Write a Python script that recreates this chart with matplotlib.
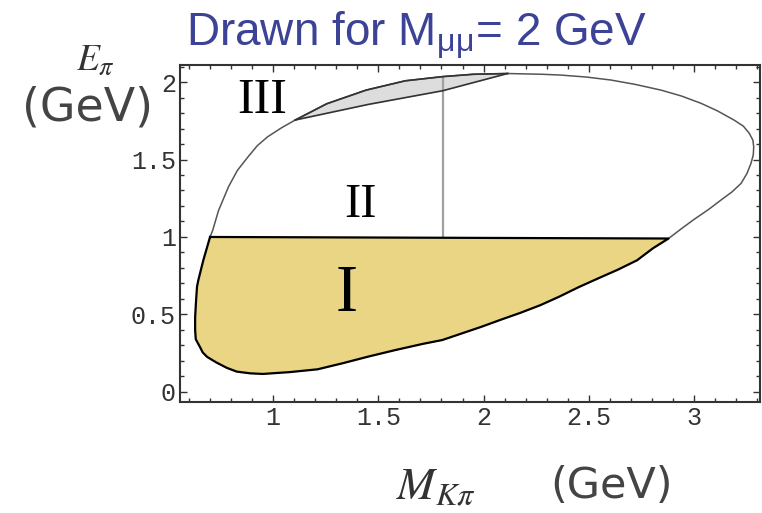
import numpy as np
import matplotlib.pyplot as plt
from matplotlib.ticker import MultipleLocator, FixedLocator

plt.rcParams['mathtext.fontset'] = 'stix'

# region I (allowed, E_pi < 1 GeV): closed boundary, counter-clockwise from top-left
region1_x = [0.700, 0.685, 0.668, 0.655, 0.644, 0.638, 0.633, 0.629, 0.629, 0.632,
             0.652, 0.665, 0.686, 0.730, 0.780, 0.827, 0.890, 0.951, 1.080, 1.211,
             1.330, 1.452, 1.580, 1.711, 1.804, 1.989, 2.080, 2.174, 2.270, 2.360,
             2.450, 2.545, 2.640, 2.730, 2.805, 2.879]
region1_y = [1.000, 0.930, 0.850, 0.780, 0.720, 0.680, 0.580, 0.480, 0.400, 0.340,
             0.290, 0.255, 0.226, 0.190, 0.155, 0.131, 0.120, 0.116, 0.128, 0.146,
             0.185, 0.228, 0.270, 0.310, 0.335, 0.420, 0.465, 0.510, 0.560, 0.615,
             0.675, 0.733, 0.790, 0.850, 0.927, 0.990]

# outer kinematic boundary above E_pi = 1 GeV
outer_x = [0.700, 0.713, 0.740, 0.788, 0.830, 0.881, 0.925, 0.974, 1.040, 1.105,
           1.255, 1.442, 1.628, 1.806, 1.950, 2.114, 2.280, 2.367, 2.490, 2.605,
           2.720, 2.843, 2.940, 3.033, 3.110, 3.190, 3.235, 3.263, 3.280, 3.284,
           3.282, 3.271, 3.252, 3.224, 3.180, 3.129, 3.070, 3.000, 2.940, 2.879]
outer_y = [1.000, 1.045, 1.170, 1.325, 1.430, 1.518, 1.590, 1.647, 1.705, 1.755,
           1.860, 1.948, 2.008, 2.035, 2.050, 2.055, 2.050, 2.045, 2.032, 2.013,
           1.985, 1.948, 1.910, 1.863, 1.815, 1.755, 1.715, 1.669, 1.625, 1.583,
           1.530, 1.475, 1.410, 1.346, 1.290, 1.239, 1.178, 1.113, 1.053, 0.990]

# lower edge of region III
region3_low_x = [1.105, 1.450, 1.806, 2.114]
region3_low_y = [1.755, 1.855, 1.944, 2.055]

cut_x = 1.806
cut_y = [1.0, 2.035]

region_labels = ['I', 'II', 'III']
label_x = [1.35, 1.414, 0.948]
label_y = [0.626, 1.206, 1.88]
label_size = [48, 35, 36]

xticks = [1, 1.5, 2, 2.5, 3]
xtick_labels = ['1', '1.5', '2', '2.5', '3']
yticks = [0, 0.5, 1, 1.5, 2]
ytick_labels = ['0', '0.5', '1', '1.5', '2']

fig = plt.figure(figsize=(7.62, 5.13), dpi=100)
ax = fig.add_axes([0.2362, 0.2164, 0.7612, 0.6569])

# region I
ax.fill(region1_x, region1_y, color='#e9d583', zorder=1)
ax.plot(region1_x + [region1_x[0]], region1_y + [region1_y[0]], color='black', lw=1.6, zorder=3)

# outer boundary
ax.plot(outer_x, outer_y, color='#555555', lw=1.1, zorder=2)

# region III: between outer boundary and the lower edge
i0 = outer_x.index(1.105)
i1 = outer_x.index(2.114)
r3x = outer_x[i0:i1 + 1] + region3_low_x[::-1]
r3y = outer_y[i0:i1 + 1] + region3_low_y[::-1]
ax.fill(r3x, r3y, color='#dddddd', zorder=1)
ax.plot(region3_low_x, region3_low_y, color='#333333', lw=1.2, zorder=2)
ax.plot(outer_x[i0:i1 + 1], outer_y[i0:i1 + 1], color='#333333', lw=1.2, zorder=2)

# vertical divider between II and III
ax.plot([cut_x, cut_x], cut_y, color='#a0a0a0', lw=1.6, zorder=1)

for t, x, y, s in zip(region_labels, label_x, label_y, label_size):
    ax.text(x, y, t, fontsize=s, family='Liberation Serif', ha='center', va='center', zorder=4)

ax.set_xlim(0.557, 3.314)
ax.set_ylim(-0.065, 2.11)

ax.xaxis.set_major_locator(FixedLocator(xticks))
ax.set_xticklabels(xtick_labels)
ax.yaxis.set_major_locator(FixedLocator(yticks))
ax.set_yticklabels(ytick_labels)
ax.xaxis.set_minor_locator(MultipleLocator(0.1))
ax.yaxis.set_minor_locator(MultipleLocator(0.1))
ax.tick_params(which='both', direction='in', top=True, right=True, color='#333333', width=1.0)
ax.tick_params(which='major', length=5, labelsize=18, labelcolor='#333333', pad=3)
ax.tick_params(which='minor', length=3)
for lab in ax.get_xticklabels() + ax.get_yticklabels():
    lab.set_family('Liberation Mono')
for sp in ax.spines.values():
    sp.set_linewidth(1.5)
    sp.set_color('#333333')

# axis labels
fig.text(96 / 762, 1 - 60 / 513, r'$E_\pi$', fontsize=27, ha='center', va='center',
         color='#333333')
fig.text(88 / 762, 1 - 108 / 513, '(GeV)', fontsize=33, family='DejaVu Sans',
         color='#444444', ha='center', va='center')
fig.text(436 / 762, 1 - 487 / 513, r'$M_{K\pi}$', fontsize=33, ha='center', va='center',
         color='#333333')
fig.text(612 / 762, 1 - 486 / 513, '(GeV)', fontsize=31, family='DejaVu Sans',
         color='#444444', ha='center', va='center')

fig.text(416 / 762, 1 - 46 / 513, 'Drawn for M$_\\mathregular{μμ}$= 2 GeV', fontsize=33,
         family='Liberation Sans', color='#3c4295', ha='center', va='baseline')

fig.savefig('out.png', dpi=100)
